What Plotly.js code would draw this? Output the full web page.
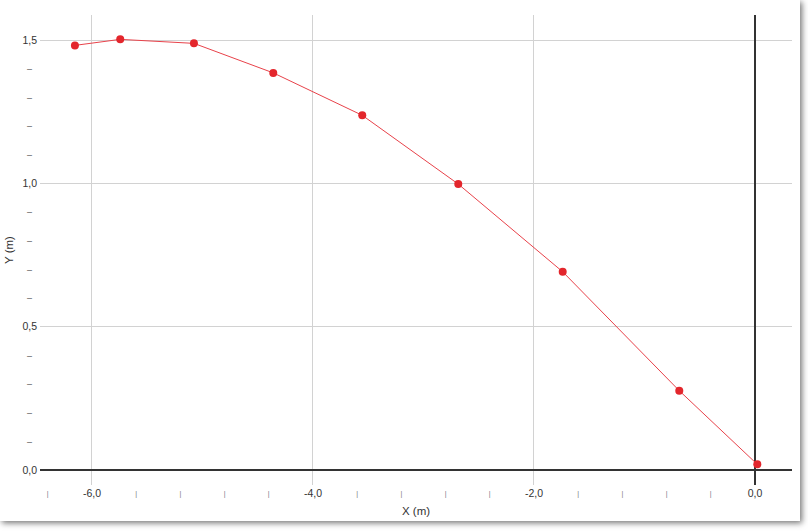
<!DOCTYPE html>
<html>
<head>
<meta charset="utf-8">
<script src="https://cdn.plot.ly/plotly-3.0.1.min.js"></script>
<style>
  html, body { margin: 0; padding: 0; background: #ffffff; }
  #card { position: absolute; left: 0; top: 0; width: 800px; height: 521px; background: #fff;
          box-shadow: 2px 2px 6px rgba(0,0,0,0.55); }
  #chart { width: 800px; height: 521px; }
</style>
</head>
<body>
<div id="card"><div id="chart"></div></div>
<script>
// Data
const xValues = [-6.154, -5.744, -5.077, -4.359, -3.554, -2.685, -1.740, -0.685, 0.021];
const yValues = [1.482, 1.503, 1.489, 1.386, 1.238, 0.998, 0.692, 0.277, 0.020];

// Axis ticks
const xMajorVals = [-6, -4, -2, 0];
const xMajorText = ['-6,0', '-4,0', '-2,0', '0,0'];
const xMinorVals = [-6.4, -5.6, -5.2, -4.8, -4.4, -3.6, -3.2, -2.8, -2.4, -1.6, -1.2, -0.8, -0.4];
const yMajorVals = [0, 0.5, 1.0, 1.5];
const yMajorText = ['0,0', '0,5', '1,0', '1,5'];
const yMinorVals = [0.1, 0.2, 0.3, 0.4, 0.6, 0.7, 0.8, 0.9, 1.1, 1.2, 1.3, 1.4];

const xRange = [-6.47, 0.335];
const yRange = [-0.052, 1.588];

const FONT = '"Helvetica Neue", "Liberation Sans", Arial, sans-serif';

const traces = [
  {
    x: xValues, y: yValues, type: 'scatter', mode: 'lines+markers',
    line: { color: '#e8424a', width: 1 },
    marker: { color: '#e3262c', size: 8 },
    hoverinfo: 'x+y', showlegend: false
  },
  { x: [], y: [], xaxis: 'x2', yaxis: 'y2', type: 'scatter', mode: 'markers', showlegend: false }
];

const layout = {
  width: 800, height: 521,
  margin: { l: 40, r: 8, t: 15, b: 36, pad: 0 },
  paper_bgcolor: 'rgba(0,0,0,0)', plot_bgcolor: 'rgba(0,0,0,0)',
  separators: ',.',
  font: { family: FONT, size: 11, color: '#333' },
  showlegend: false,
  xaxis: {
    range: xRange, tickmode: 'array', tickvals: xMajorVals, ticktext: xMajorText,
    showgrid: true, gridcolor: '#d2d2d2', gridwidth: 1,
    zeroline: true, zerolinecolor: '#333', zerolinewidth: 2,
    showline: false, ticks: '', automargin: false,
    tickfont: { family: FONT, size: 10.5, color: '#333' },
    title: { text: 'X (m)', font: { family: FONT, size: 11.5, color: '#333' }, standoff: 9 }
  },
  yaxis: {
    range: yRange, tickmode: 'array', tickvals: yMajorVals, ticktext: yMajorText,
    showgrid: true, gridcolor: '#d2d2d2', gridwidth: 1,
    zeroline: true, zerolinecolor: '#333', zerolinewidth: 2,
    showline: false, ticks: '', automargin: false, ticklabelstandoff: 2,
    tickfont: { family: FONT, size: 10.5, color: '#333' },
    title: { text: 'Y (m)', font: { family: FONT, size: 11.5, color: '#333' }, standoff: 6 }
  },
  xaxis2: {
    overlaying: 'x', anchor: 'y', side: 'bottom', range: xRange,
    tickmode: 'array', tickvals: xMinorVals, ticktext: xMinorVals.map(() => '|'),
    showgrid: false, zeroline: false, showline: false, ticks: '', automargin: false,
    tickfont: { family: FONT, size: 7, color: '#777' }, ticklabelstandoff: 3
  },
  yaxis2: {
    overlaying: 'y', anchor: 'x', side: 'left', range: yRange,
    tickmode: 'array', tickvals: yMinorVals, ticktext: yMinorVals.map(() => '–'),
    showgrid: false, zeroline: false, showline: false, ticks: '', automargin: false,
    tickfont: { family: FONT, size: 9, color: '#555' }, ticklabelstandoff: 7
  }
};

Plotly.newPlot('chart', traces, layout, { displayModeBar: false, staticPlot: true });
</script>
</body>
</html>
